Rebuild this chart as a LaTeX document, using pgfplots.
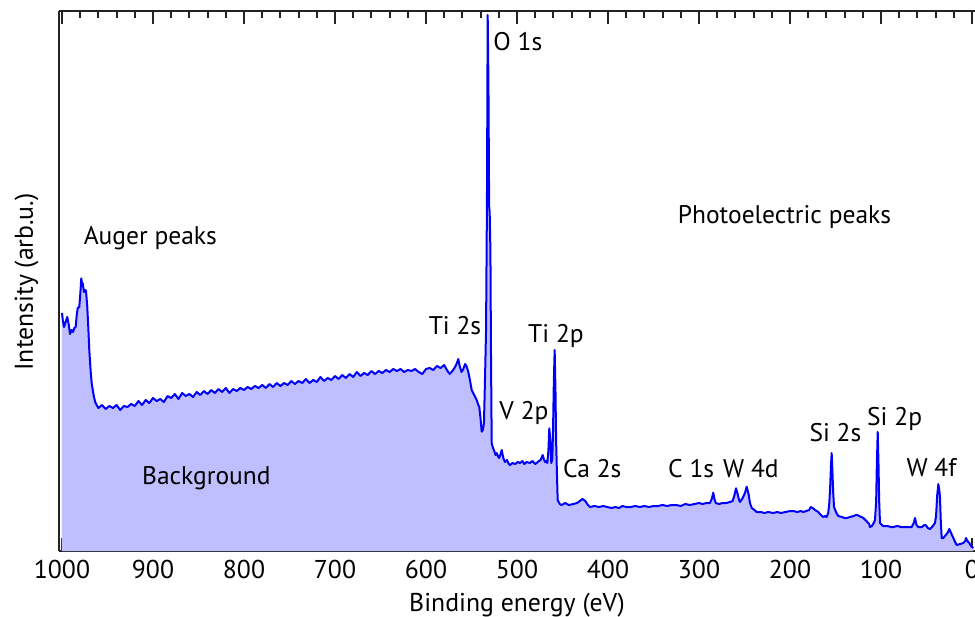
\documentclass[border=0pt]{standalone}
\usepackage{fontspec}
\setmainfont{PT Sans}
\usepackage{pgfplots}
\usepackage{pgfplotstable}
\pgfplotsset{compat=1.18}
\definecolor{specline}{RGB}{0,0,250}
\definecolor{specfill}{RGB}{191,191,255}
\definecolor{axcol}{RGB}{35,35,35}
\pgfplotstableread{
E I
1000 238
999 230
997.8 224
996 229
994.2 234
992.5 226
991.2 217
989.5 221
987.9 219
986.5 223
985 224
983.8 236
982.7 243
981 244
979.8 258
978.8 272.7
977.8 266
977.3 268
975.8 259
974.5 261
973.6 260
972.2 244
971 222
970 201
968.5 180
967.4 168
966 160
964.8 154
963.5 149
961.9 146
960 143
956 146
952 142
948 145
944 143
940 146
936 141
932 145
928 144
924 147
920 145
916 150
912 146
908 151
904 148
900 153
896 150
892 152
888 149
884 155
880 153
876 157
872 152
868 158
864 155
860 157
856 154
852 159
848 156
844 160
840 157
836 161
832 158
828 162
824 159
820 163
816 158
812 162
808 160
804 163
800 161
796 164
792 162
788 165
784 163
780 166
776 163
772 167
768 164
764 168
760 165
756 168
752 166
748 170
744 167
740 170
736 168
732 172
728 168
724 171
720 169
716 174
712 170
708 173
704 171
700 175
696 172
692 176
688 173
684 177
680 174
676 179
672 175
668 178
664 176
660 180
656 177
652 180
648 178
644 181
640 179
636 182
632 180
628 182
624 179
620 181
616 180
612 182
608 179
604 177
600 182
596 183
592 181
588 185
584 183
580 186
577 181
574 177
571 180
568 184
566 188
564.5 192
563 185
561 179
559 182
557 187
555.5 185
553.5 179
551.5 170
549.8 161
547 156
544.3 151
542.5 146
541.4 144
540 132
538.8 119.3
537.5 121
536.3 128
535.2 170
534 221
533 350
532.2 536
531.4 470
530.6 345
530 338
529.2 300
528.6 200
527.8 108
526.7 104
525 100
523.5 96
522.3 98
520.5 94
519.5 93
518 97
516.8 101
515 93
513.2 89
511 91
509 87
507.7 86
505 88
502 87
499 89
496.7 88
494 90
492 87
489.3 89
486 88
483 90
480 87
478.4 88
476 90
474 91
471.8 96
470.5 92
469.2 89
467.8 90
466.7 88
465.5 100
464.5 122.7
463.3 110
462.3 88
461.2 92
460.4 120
459.5 170
458.6 201
457.7 160
457 110
456.4 88
455.3 51
453 47
450.9 46
447 48
443 46
438 47
434 48
431 50
428 52
425 50
422 46
419.8 44
415 45
410 44
405 45
401 44
396 43
392 44
388 43
384 45
380 44
375 44
370 45
365 44
360 45
355 44
350 45
345 45
340 46
335 45
330 46
325 46
320 45
315 47
310 46
305 47
300 48
296 47
292 48
288 48
286 52
284.3 58.3
283 52
281.6 48
278 47
274 48
270 48
266 49
263 50
261 56
259.3 62.7
257.5 57
256 51
254.9 49
252 53
249.5 58
247.6 64.3
245.5 57
244 48
242 43
239 41
236.6 39
232 39
228 38
224 39
218.4 38
214 39
210 38
205 39
200 40
196.4 40
192 39
188 40
185.4 39
182 40
179 41
177.3 44
175 43
172.5 41
169 39
166 36
163.4 34
161 35
159.7 34
158 38
156.8 48
155.8 65
155 85
154.2 98
153.4 80
152.6 60
151.6 44
149 38
146.9 35
143 34
140 33
137.7 33
134 34
130 35
127.5 36
126 36
124 35
121.5 34
119.4 33
116 30
113 27
112.1 24
110 25
108 28
106.6 31
105.3 50
104.6 85
103.6 119
102.7 85
102 50
101.1 28
99 26
97.5 25
93 25
89 24
86.5 24
82 25
78 24
75.5 24
71 24
66.3 24
64 28
62.6 33
61 26
59 24
55 24
52.5 26
50.9 26
48.5 23
46.2 22
43 25
40.7 28
39.5 35
38.3 55
37 67
35.8 60
35.2 54
34.3 30
33.3 13
31.5 13
29.7 15
27 18
24.9 22
23 18
20.5 13
18.5 9
16.8 6
13 7
9.6 8
7.5 10
6.6 13
5 10
3 8
1 5
-1.4 3
}\spectrum
\begin{document}
\begin{tikzpicture}
\clip (-23.6pt,-26pt) rectangle (366.4pt,220.4pt);
\begin{axis}[
  at={(0pt,0pt)}, anchor=south west,
  scale only axis, width=366.4pt, height=216pt,
  x dir=reverse,
  xmin=-3.3, xmax=1003.3, ymin=0, ymax=540,
  axis x line=box, axis y line*=left,
  axis line style={-, line width=0.8pt, color=axcol},
  xtick={0,100,...,1000}, minor x tick num=4,
  ytick=\empty,
  tick align=inside,
  major tick length=5.1pt, minor tick length=2.7pt,
  every tick/.style={line width=0.8pt, color=axcol},
  /pgf/number format/assume math mode=true,
  /pgf/number format/1000 sep={},
  xticklabel style={font=\fontsize{10.3}{12}\selectfont, anchor=base, yshift=-11pt},
  xlabel={Binding energy (eV)},
  xlabel style={font=\fontsize{10.3}{12}\selectfont, at={(axis description cs:0.5,-0.1111)}, anchor=base},
  ylabel={Intensity (arb.u.)},
  ylabel style={font=\fontsize{10.3}{12}\selectfont, at={(axis description cs:-0.0284,0.498)}, anchor=base, rotate=0},
  clip=true,
]
\addplot[draw=none, fill=specfill] table[x=E, y=I] {\spectrum} \closedcycle;
\addplot[specline, line width=0.8pt, line join=round] table[x=E, y=I] {\spectrum};
\begin{scope}[every node/.style={font=\fontsize{10.2}{12}\selectfont, anchor=base west, inner sep=0pt}]
\node at (axis cs:526.4,501) {O 1s};
\node at (axis cs:976.6,307) {Auger peaks};
\node at (axis cs:323.8,327.7) {Photoelectric peaks};
\node at (axis cs:597.5,217) {Ti 2s};
\node at (axis cs:488.2,208.7) {Ti 2p};
\node at (axis cs:519.8,131.7) {V 2p};
\node at (axis cs:449.8,74) {Ca 2s};
\node at (axis cs:334.4,74) {C 1s};
\node at (axis cs:274,74) {W 4d};
\node at (axis cs:179.1,109.3) {Si 2s};
\node at (axis cs:115.7,126) {Si 2p};
\node at (axis cs:72.5,74.3) {W 4f};
\node at (axis cs:912.4,67) {Background};
\end{scope}
\end{axis}
\end{tikzpicture}
\end{document}
